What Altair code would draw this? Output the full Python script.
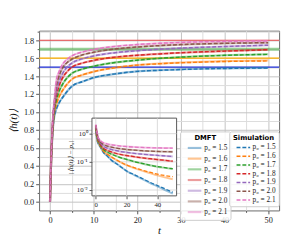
import altair as alt
import pandas as pd

# ---------------- data ----------------
T = [0, 0.25, 0.5, 0.75, 1, 1.5, 2, 3, 4, 5, 7.5, 10, 15, 20, 25, 30, 35, 40, 45, 50]
P0 = [1.5, 1.6, 1.7, 1.8, 1.9, 2.0, 2.1]
LABELS = ["p₀ = 1.5", "p₀ = 1.6", "p₀ = 1.7", "p₀ = 1.8", "p₀ = 1.9", "p₀ = 2.0", "p₀ = 2.1"]
COLORS = ["#1f77b4", "#ff7f0e", "#2ca02c", "#d62728", "#9467bd", "#8c564b", "#e377c2"]

SIM_15 = [0, 0.43, 0.69, 0.86, 0.95, 1.04, 1.095, 1.17, 1.235, 1.286, 1.34, 1.383, 1.425, 1.453, 1.465, 1.474, 1.481, 1.4855, 1.489, 1.4917]
SIM_16 = [0, 0.44, 0.71, 0.88, 0.99, 1.09, 1.16, 1.25, 1.315, 1.365, 1.415, 1.45, 1.495, 1.523, 1.538, 1.549, 1.557, 1.5635, 1.5675, 1.5704]
SIM_17 = [0, 0.44, 0.73, 0.91, 1.02, 1.14, 1.22, 1.32, 1.385, 1.43, 1.48, 1.51, 1.553, 1.578, 1.598, 1.612, 1.623, 1.632, 1.638, 1.643]
SIM_18 = [0, 0.45, 0.75, 0.94, 1.05, 1.19, 1.28, 1.39, 1.455, 1.499, 1.547, 1.575, 1.612, 1.633, 1.648, 1.661, 1.671, 1.679, 1.687, 1.695]
SIM_19 = [0, 0.45, 0.76, 0.96, 1.08, 1.24, 1.33, 1.44, 1.505, 1.546, 1.595, 1.625, 1.662, 1.684, 1.700, 1.712, 1.722, 1.730, 1.738, 1.745]
SIM_20 = [0, 0.46, 0.77, 0.98, 1.10, 1.30, 1.39, 1.50, 1.555, 1.589, 1.638, 1.666, 1.703, 1.725, 1.740, 1.752, 1.760, 1.766, 1.770, 1.773]
SIM_21 = [0, 0.46, 0.78, 1.00, 1.13, 1.365, 1.44, 1.54, 1.59, 1.625, 1.67, 1.697, 1.732, 1.752, 1.766, 1.776, 1.783, 1.788, 1.791, 1.793]

DMFT_15 = [0, 0.43, 0.69, 0.86, 0.95, 1.04, 1.095, 1.17, 1.235, 1.286, 1.34, 1.383, 1.425, 1.453, 1.466, 1.475, 1.482, 1.4865, 1.490, 1.4925]
DMFT_16 = [0, 0.44, 0.71, 0.88, 0.99, 1.09, 1.16, 1.25, 1.315, 1.365, 1.415, 1.45, 1.495, 1.524, 1.540, 1.5515, 1.560, 1.567, 1.572, 1.576]
DMFT_17 = [0, 0.44, 0.73, 0.91, 1.02, 1.14, 1.22, 1.32, 1.385, 1.43, 1.48, 1.51, 1.553, 1.578, 1.598, 1.613, 1.624, 1.633, 1.639, 1.644]
DMFT_18 = [0, 0.45, 0.75, 0.94, 1.05, 1.19, 1.28, 1.39, 1.455, 1.499, 1.547, 1.575, 1.612, 1.633, 1.648, 1.661, 1.671, 1.679, 1.687, 1.695]
DMFT_19 = [0, 0.45, 0.76, 0.96, 1.08, 1.24, 1.33, 1.44, 1.505, 1.546, 1.595, 1.625, 1.662, 1.684, 1.700, 1.712, 1.722, 1.730, 1.738, 1.745]
DMFT_20 = [0, 0.46, 0.77, 0.98, 1.10, 1.30, 1.39, 1.50, 1.555, 1.589, 1.638, 1.666, 1.703, 1.725, 1.740, 1.752, 1.760, 1.766, 1.770, 1.773]
DMFT_21 = [0, 0.46, 0.78, 1.00, 1.13, 1.365, 1.44, 1.54, 1.59, 1.625, 1.67, 1.697, 1.732, 1.752, 1.766, 1.776, 1.783, 1.788, 1.791, 1.793]

SIM = [SIM_15, SIM_16, SIM_17, SIM_18, SIM_19, SIM_20, SIM_21]
DMFT = [DMFT_15, DMFT_16, DMFT_17, DMFT_18, DMFT_19, DMFT_20, DMFT_21]

HLINES = [1.5, 1.6, 1.8]
HLINE_COLORS = ["#1a2ad4", "#ffb000", "#e8484a"]
HLINE_GREEN = [1.7]

X_TICKS = [0, 5, 10, 15, 20, 25, 30, 35, 40, 45, 50]
Y_TICKS = [0.0, 0.1, 0.2, 0.3, 0.4, 0.5, 0.6, 0.7, 0.8, 0.9, 1.0, 1.1, 1.2, 1.3, 1.4, 1.5, 1.6, 1.7, 1.8, 1.9]
INSET_X_TICKS = [0, 20, 40]
INSET_Y_TICKS = [0.01, 0.1, 1]

rows = []
for p0, lab, dm, sm in zip(P0, LABELS, DMFT, SIM):
    for t, a, b in zip(T, dm, sm):
        rows.append({"t": t, "p0": p0, "label": lab, "dmft": a, "sim": b})
df = pd.DataFrame(rows)

# ---------------- layout ----------------
W, H = 247, 185
SERIF = "Liberation Serif"

XS = alt.Scale(domain=[-2.5, 52.5], nice=False, zero=False)
YS = alt.Scale(domain=[-0.0975, 1.907], nice=False, zero=False)

IX0, IX1 = 54.4, 141.5   # inset pixel range inside plot
IY0, IY1 = 170.0, 90.0
XI = alt.Scale(domain=[-2.5, 52.5], range=[IX0, IX1], nice=False, zero=False)
YI_DOM = [0.0062, 3.56]
YI = alt.Scale(type="log", domain=YI_DOM, range=[IY0, IY1], nice=False)

x_axis = alt.Axis(
    values=X_TICKS,
    labelExpr="datum.value % 10 === 0 ? datum.label : ''",
    grid=True,
    gridColor={"condition": {"test": "datum.value % 10 === 0", "value": "#c2c2c2"}, "value": "#dcdcdc"},
    tickSize={"condition": {"test": "datum.value % 10 === 0", "value": 3.5}, "value": 2},
    title="t", orient="bottom", titlePadding=1,
)
y_axis = alt.Axis(
    values=Y_TICKS,
    labelExpr="round(datum.value * 10) % 2 === 0 ? format(datum.value, '.1f') : ''",
    grid=True,
    gridColor={"condition": {"test": "round(datum.value * 10) % 2 === 0", "value": "#c2c2c2"}, "value": "#dcdcdc"},
    tickSize={"condition": {"test": "round(datum.value * 10) % 2 === 0", "value": 3.5}, "value": 2},
    title="⟨h(t)⟩", orient="left", titlePadding=5,
)

hl = alt.Chart(pd.DataFrame({"v": HLINES})).mark_rule(strokeWidth=1.2).encode(
    y=alt.Y("v:Q", scale=YS, axis=y_axis),
    color=alt.Color("v:N", scale=alt.Scale(domain=HLINES, range=HLINE_COLORS), legend=None),
)
hl_g = alt.Chart(pd.DataFrame({"v": HLINE_GREEN})).mark_rule(
    strokeWidth=3, color="#2ca02c", opacity=0.5
).encode(y=alt.Y("v:Q", scale=YS, axis=None))

LINE_SYMBOL = "M-2,0H2"
leg_common = dict(
    orient="none", symbolType=LINE_SYMBOL, symbolSize=49, symbolOffset=7,
    labelFont=SERIF, labelFontSize=7.5,
    titleFont="DejaVu Sans", titleFontSize=7, titleFontWeight="bold", titleAnchor="middle",
    titlePadding=2, fillColor="rgba(255,255,255,0.85)", strokeColor="#cccccc", cornerRadius=2,
    padding=3, rowPadding=1, labelOffset=5, labelColor="#222", legendY=103.7,
)

dm_main = alt.Chart(df).mark_line(strokeWidth=2.2, opacity=0.45, interpolate="monotone").encode(
    x=alt.X("t:Q", scale=XS, axis=x_axis),
    y=alt.Y("dmft:Q", scale=YS, axis=None),
    color=alt.Color("label:N", scale=alt.Scale(domain=LABELS, range=COLORS),
                    legend=alt.Legend(title="DMFT", legendX=145, symbolStrokeWidth=2.2,
                                      symbolOpacity=0.45, **leg_common)),
)
sim_main = alt.Chart(df).mark_line(strokeWidth=1.5, strokeDash=[4, 2], interpolate="monotone").encode(
    x=alt.X("t:Q", scale=XS, axis=None),
    y=alt.Y("sim:Q", scale=YS, axis=None),
    color=alt.Color("label:N", scale=alt.Scale(domain=LABELS, range=COLORS),
                    legend=alt.Legend(title="Simulation", legendX=195.7, symbolStrokeWidth=1.5,
                                      symbolDash=[4, 2], **leg_common)),
)

# inset background / frame
box = alt.Chart(pd.DataFrame({"x1": [XI.domain[0]], "x2": [XI.domain[1]],
                              "y1": [YI_DOM[0]], "y2": [YI_DOM[1]]})).mark_rect(
    fill="white", stroke="#555555", strokeWidth=1
).encode(
    x=alt.X("x1:Q", scale=XI, axis=None), x2="x2:Q",
    y=alt.Y("y1:Q", scale=YI, axis=None), y2="y2:Q",
)
gx = alt.Chart(pd.DataFrame({"gx": INSET_X_TICKS})).mark_rule(color="#d0d0d0", strokeWidth=0.8).encode(
    x=alt.X("gx:Q", scale=XI, axis=None),
    y=alt.Y(datum=YI_DOM[0], type="quantitative", scale=YI, axis=None),
    y2=alt.Y2(datum=YI_DOM[1]),
)
gy = alt.Chart(pd.DataFrame({"gy": INSET_Y_TICKS})).mark_rule(color="#d0d0d0", strokeWidth=0.8).encode(
    y=alt.Y("gy:Q", scale=YI, axis=None),
    x=alt.X(datum=XI.domain[0], type="quantitative", scale=XI, axis=None),
    x2=alt.X2(datum=XI.domain[1]),
)

inset_x_axis = alt.Axis(values=INSET_X_TICKS, orient="bottom", offset=-(H - IY0), grid=False,
                        domain=False, tickSize=3, labelFontSize=7, labelPadding=1.5,
                        title=None, zindex=1)
inset_y_axis = alt.Axis(values=INSET_Y_TICKS, orient="left", offset=-IX0, grid=False,
                        domain=False, tickSize=3, labelFontSize=7, labelPadding=2,
                        labelExpr="datum.value >= 1 ? '10⁰' : datum.value >= 0.1 ? '10⁻¹' : '10⁻²'",
                        title="|⟨h(t)⟩ − p₀|", titleFontSize=7, titlePadding=3, zindex=1)

dm_in = alt.Chart(df).transform_calculate(d="abs(datum.dmft - datum.p0)").mark_line(
    strokeWidth=2, opacity=0.45, interpolate="monotone"
).encode(
    x=alt.X("t:Q", scale=XI, axis=None),
    y=alt.Y("d:Q", scale=YI, axis=None),
    color=alt.Color("label:N", scale=alt.Scale(domain=LABELS, range=COLORS), legend=None),
)
sim_in = alt.Chart(df).transform_calculate(d="abs(datum.sim - datum.p0)").mark_line(
    strokeWidth=1.3, strokeDash=[4, 2], interpolate="monotone"
).encode(
    x=alt.X("t:Q", scale=XI, axis=inset_x_axis),
    y=alt.Y("d:Q", scale=YI, axis=inset_y_axis),
    color=alt.Color("label:N", scale=alt.Scale(domain=LABELS, range=COLORS), legend=None),
)

chart = alt.layer(hl, hl_g, dm_main, sim_main, box, gx, gy, dm_in, sim_in).resolve_scale(
    x="independent", y="independent", color="independent"
).properties(
    width=W, height=H,
    autosize=alt.AutoSizeParams(type="none"),
    padding={"left": 32, "top": 20, "right": 4, "bottom": 24},
).configure_view(
    stroke="#666666", strokeWidth=1
).configure_axis(
    labelFont=SERIF, labelFontSize=8.5, labelColor="#222", titleFont=SERIF, titleFontSize=11,
    titleFontStyle="italic", titleFontWeight="normal", titleColor="#111", domain=False,
    tickColor="#555", labelPadding=2,
).configure_legend(labelLimit=0)

chart.save("out.html", embed_options={"renderer": "svg", "actions": False})
